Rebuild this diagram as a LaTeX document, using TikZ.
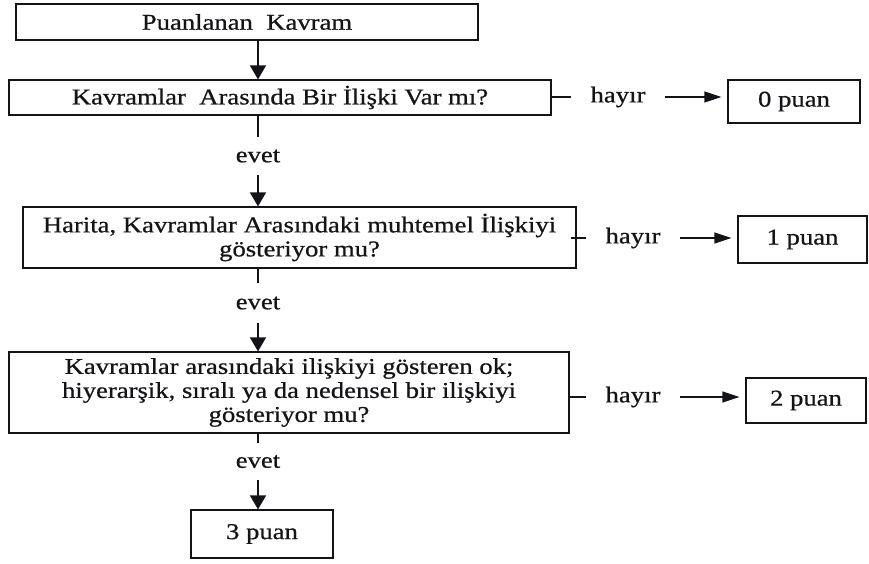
\documentclass[tikz,border=0pt]{standalone}
\usepackage{fontspec}
\setmainfont[FakeStretch=1.18,FakeBold=0.7]{Liberation Serif}
\usepackage{tikz}
\usetikzlibrary{arrows.meta,positioning}
\definecolor{ink}{HTML}{141418}
\tikzset{
  every node/.style={font=\fontsize{22.6}{24}\selectfont,text=ink},
  kutu/.style={draw=ink,line width=1.2pt,align=center,inner sep=2pt},
  puan/.style={kutu},
  etiket/.style={inner sep=0pt,minimum height=38pt},
  hayirlbl/.style={inner ysep=0pt,inner xsep=19pt},
  cizgi/.style={draw=ink,line width=1.3pt},
  varrow/.style={-{Triangle[width=16pt,length=14pt]},line width=1.6pt,draw=ink},
  harrow/.style={-{Triangle[width=11pt,length=17pt]},line width=1.3pt,draw=ink,shorten >=6pt}
}
\begin{document}
\begin{tikzpicture}[x=1pt,y=-1pt]
  \useasboundingbox (0,0) rectangle (869,563);
  \coordinate (eksen) at (258,0);

  \node[kutu,minimum width=462pt,minimum height=36pt] (kavram) at (247,22) {Puanlanan\ \ Kavram};
  \node[kutu,minimum width=542pt,minimum height=35pt] (soru1) at (280,97.5) {Kavramlar\ \ Arasında Bir İlişki Var mı?};
  \node[kutu,minimum width=553pt,minimum height=61pt] (soru2) at (299.5,237.5) {Harita, Kavramlar Arasındaki muhtemel İlişkiyi\\gösteriyor mu?};
  \node[kutu,minimum width=560pt,minimum height=81pt] (soru3) at (289,392.5) {Kavramlar arasındaki ilişkiyi gösteren ok;\\hiyerarşik, sıralı ya da nedensel bir ilişkiyi\\gösteriyor mu?};

  \node[puan,minimum width=132pt,minimum height=43pt] (p0) at (794,101.5) {0 puan};
  \node[puan,minimum width=129pt,minimum height=47pt] (p1) at (802.5,239.5) {1 puan};
  \node[puan,minimum width=120pt,minimum height=45pt] (p2) at (806,400.5) {2 puan};
  \node[puan,minimum width=142pt,minimum height=48pt] (p3) at (262,534) {3 puan};

  \node[hayirlbl] (h1) at (618,97) {hayır};
  \node[hayirlbl] (h2) at (633,238) {hayır};
  \node[hayirlbl] (h3) at (633,397) {hayır};

  \node[etiket] (e1) at (258,156) {evet};
  \node[etiket,minimum height=40pt] (e2) at (258,303) {evet};
  \node[etiket,minimum height=37pt] (e3) at (258,461.5) {evet};

  \draw[varrow] (kavram.south -| eksen) -- (soru1.north -| eksen);
  \draw[cizgi] (soru1.south -| eksen) -- (e1.north);
  \draw[varrow] (e1.south) -- (soru2.north -| eksen);
  \draw[cizgi] (soru2.south -| eksen) -- (e2.north);
  \draw[varrow] (e2.south) -- (soru3.north -| eksen);
  \draw[cizgi] (soru3.south -| eksen) -- (e3.north);
  \draw[varrow] (e3.south) -- (p3.north -| eksen);

  \draw[cizgi] (h1.west -| soru1.east) -- (h1.west);
  \draw[harrow] (h1.east) -- (h1.east -| p0.west);
  \draw[cizgi] ([xshift=-6pt]h2.west -| soru2.east) -- (h2.west);
  \draw[harrow] (h2.east) -- (h2.east -| p1.west);
  \draw[cizgi] (h3.west -| soru3.east) -- (h3.west);
  \draw[harrow] (h3.east) -- (h3.east -| p2.west);
\end{tikzpicture}
\end{document}
